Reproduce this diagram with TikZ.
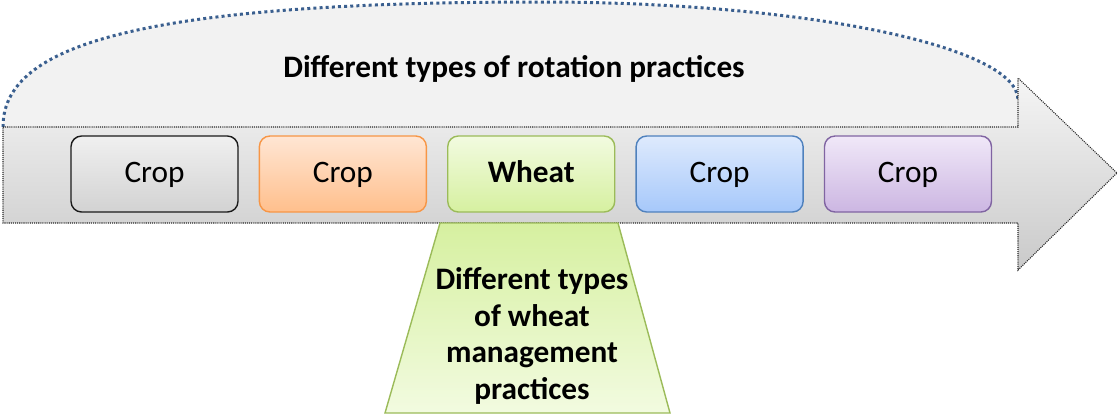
\documentclass[tikz,border=0pt]{standalone}
\usepackage{fontspec}
\setmainfont{Carlito}
\usepackage{tikz}
\usetikzlibrary{positioning,shadows}
\definecolor{arcblue}{HTML}{3A5F8F}
\definecolor{arcfill}{HTML}{F2F2F2}
\definecolor{greyline}{HTML}{1A1A1A}
\definecolor{orangeline}{HTML}{F79646}
\definecolor{greenline}{HTML}{9BBB59}
\definecolor{blueline}{HTML}{4F81BD}
\definecolor{purpleline}{HTML}{8064A2}
\tikzset{
    cropbox/.style={
                draw,
                line width=0.8pt,
                rounded corners=6pt,
                minimum width=3.34cm,
                minimum height=1.52cm,
                inner sep=0pt,
                text height=0.45cm,
                text depth=0.12cm,
                font=\fontsize{17.8}{21}\selectfont
            },
        cropgrey/.style={cropbox, draw=greyline, top color=gray!12, bottom color=gray!35},
        croporange/.style={cropbox, draw=orangeline, top color={rgb,255:red,255;green,230;blue,212}, bottom color={rgb,255:red,255;green,191;blue,140}},
        cropgreen/.style={cropbox, draw=greenline, top color={rgb,255:red,242;green,251;blue,224}, bottom color={rgb,255:red,214;green,240;blue,160}},
        cropblue/.style={cropbox, draw=blueline, top color={rgb,255:red,222;green,234;blue,253}, bottom color={rgb,255:red,166;green,200;blue,250}},
        croppurple/.style={cropbox, draw=purpleline, top color={rgb,255:red,240;green,232;blue,248}, bottom color={rgb,255:red,204;green,182;blue,226}},
        rotationarc/.style={
                draw=arcblue,
                line width=1.7pt,
                dash pattern=on 1.7pt off 1.8pt
            },
        arrowbody/.style={
                draw=black!85,
                line width=0.6pt,
                dash pattern=on 0.6pt off 0.6pt,
                top color=gray!8,
                bottom color=gray!42
            },
        practices/.style={
                draw=greenline,
                line width=0.8pt,
                top color={rgb,255:red,214;green,240;blue,160},
                bottom color={rgb,255:red,242;green,251;blue,224}
            },
        heading/.style={font=\fontsize{17.8}{21}\selectfont\bfseries, align=center}
}

\begin{document}
\begin{tikzpicture}[x=0.02cm,y=-0.02cm]
\useasboundingbox (0,0) rectangle (1118,417);
% Rotation arc
\fill[arcfill] (3,127) .. controls (3,50) and (120,2) .. (540,2)
    .. controls (804,2) and (1018,46) .. (1018,100) -- (1018,127) -- cycle;
\draw[rotationarc] (3,127) .. controls (3,50) and (120,2) .. (540,2)
    .. controls (804,2) and (1018,46) .. (1018,100);
\node[heading] (rotation) at (514,69) {Different types of rotation practices};
% Arrow
\path[arrowbody] (3,127) -- (1018,127) -- (1018,78) -- (1117,173)
    -- (1018,270) -- (1018,223) -- (3,223) -- cycle;
% Wheat management
\coordinate (tl) at (440,223);
\coordinate (tr) at (618,223);
\coordinate (br) at (670,413);
\coordinate (bl) at (385,413);
\path[practices] (tl) -- (tr) -- (br) -- (bl) -- cycle;
\node[heading] (management) at (532,336) {Different types\\of wheat\\management\\practices};
% Crops
\node[cropgrey] (crop1) at (154.5,174) {Crop};
\node[croporange, right=0.4cm of crop1] (crop2) {Crop};
\node[cropgreen, right=0.4cm of crop2, font=\fontsize{17.8}{21}\selectfont\bfseries] (wheat) {Wheat};
\node[cropblue, right=0.4cm of wheat] (crop4) {Crop};
\node[croppurple, right=0.4cm of crop4] (crop5) {Crop};
\end{tikzpicture}
\end{document}
